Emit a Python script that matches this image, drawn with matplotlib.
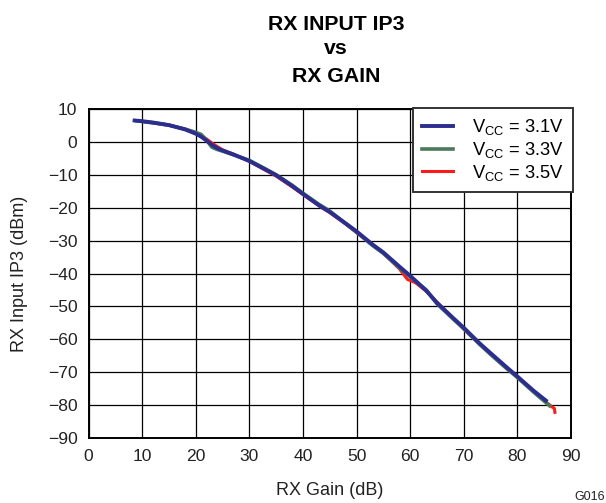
import matplotlib.pyplot as plt

plt.rcParams['font.family'] = 'Liberation Sans'
plt.rcParams['mathtext.fontset'] = 'custom'
plt.rcParams['mathtext.rm'] = 'Liberation Sans'
plt.rcParams['mathtext.default'] = 'regular'

gain_31 = [8.6, 10, 12, 15, 18, 20, 21, 22, 23, 24, 25, 27, 30, 33, 35, 38, 40, 43, 45,
           48, 50, 53, 55, 58, 60, 63, 65, 68, 70, 73, 75, 78, 80, 83, 85.3]
ip3_31 = [6.5, 6.3, 5.9, 5.1, 3.8, 2.5, 1.6, 0.4, -0.9, -1.9, -2.6, -3.8, -5.8, -8.4, -10.1,
          -13.4, -15.8, -19.3, -21.3, -24.8, -27.2, -31.2, -33.6, -37.9, -40.7, -45.2, -48.9,
          -53.5, -56.5, -61.3, -64.2, -68.5, -71.3, -75.6, -78.6]

gain_33 = [9, 10, 12, 15, 18, 20, 21, 22, 23, 24, 25, 27, 30, 33, 35, 38, 40, 43, 45,
           48, 50, 53, 55, 58, 60, 63, 65, 68, 70, 73, 75, 78, 80, 83, 86]
ip3_33 = [6.4, 6.2, 5.8, 5.1, 3.9, 2.9, 2.3, 0.6, -1.6, -2.3, -2.8, -3.9, -5.6, -8.2, -10.0,
          -13.2, -15.6, -19.0, -21.0, -24.9, -27.4, -31.5, -33.9, -38.3, -41.0, -45.0, -49.2,
          -53.8, -56.8, -61.6, -64.6, -68.9, -71.6, -76.0, -80.2]

gain_35 = [9.5, 10, 12, 15, 18, 20, 21, 22, 23, 24, 25, 27, 30, 33, 35, 38, 40, 43, 45,
           48, 50, 53, 55, 58, 59.5, 61, 63, 65, 68, 70, 73, 75, 78, 80, 83, 86.5, 86.9, 87.0]
ip3_35 = [6.3, 6.2, 5.8, 5.1, 3.9, 2.6, 1.8, 0.9, -0.3, -1.4, -2.4, -3.7, -5.9, -8.6, -10.4,
          -13.7, -16.0, -19.4, -21.5, -25.0, -27.6, -31.4, -33.8, -38.6, -41.8, -42.8, -45.4,
          -48.7, -53.6, -56.9, -61.5, -64.4, -68.7, -71.5, -75.9, -80.6, -81.0, -82.2]

xticks = list(range(0, 100, 10))
yticks = list(range(-90, 20, 10))

fig = plt.figure(figsize=(6.06, 5.03), dpi=100)
ax = fig.add_axes([88.5 / 606, 1 - 438 / 503, (571 - 88.5) / 606, (438 - 109) / 503])

ax.plot(gain_35, ip3_35, color='#FF1A1A', lw=2.2, label=r'V$_{CC}$ = 3.5V', zorder=3)
ax.plot(gain_33, ip3_33, color='#4A7A58', lw=2.6, label=r'V$_{CC}$ = 3.3V', zorder=4)
ax.plot(gain_31, ip3_31, color='#2B2E8E', lw=2.8, label=r'V$_{CC}$ = 3.1V', zorder=5)

ax.set_xlim(0, 90)
ax.set_ylim(-90, 10)
ax.set_xticks(xticks)
ax.set_yticks(yticks)
ax.set_yticklabels([str(v).replace('-', '\u2212') for v in yticks])
ax.grid(True, color='black', lw=0.9)
ax.set_axisbelow(True)
ax.tick_params(length=0, labelsize=12.6, colors='#222222')
ax.tick_params(axis='x', pad=8)
ax.tick_params(axis='y', pad=8)
for s in ax.spines.values():
    s.set_linewidth(1.4)

ax.set_xlabel('RX Gain (dB)', fontsize=13, labelpad=13, color='#222222')
ax.set_ylabel('RX Input IP3 (dBm)', fontsize=13, labelpad=14, color='#222222')

handles, labels = ax.get_legend_handles_labels()
leg = ax.legend(handles[::-1], labels[::-1], loc='upper right', bbox_to_anchor=(1.004, 1.003),
                fontsize=13.2, frameon=True, fancybox=False, framealpha=1,
                edgecolor='#333333', handlelength=1.7, labelspacing=0.15,
                borderaxespad=0, handletextpad=1.0, borderpad=0.5)
leg.get_frame().set_linewidth(1.4)

title_x = 336 / 606
fig.text(title_x, 1 - 29.5 / 503, 'RX INPUT IP3', ha='center', va='baseline',
         fontsize=15.3, fontweight='bold')
fig.text(title_x, 1 - 54 / 503, 'vs', ha='center', va='baseline',
         fontsize=15.3, fontweight='bold')
fig.text(title_x, 1 - 82.5 / 503, 'RX GAIN', ha='center', va='baseline',
         fontsize=15.3, fontweight='bold')
fig.text(590 / 606, 1 - 497 / 503, 'G016', ha='center', va='center', fontsize=9,
         color='#222222')

fig.savefig('out.png', dpi=100)
